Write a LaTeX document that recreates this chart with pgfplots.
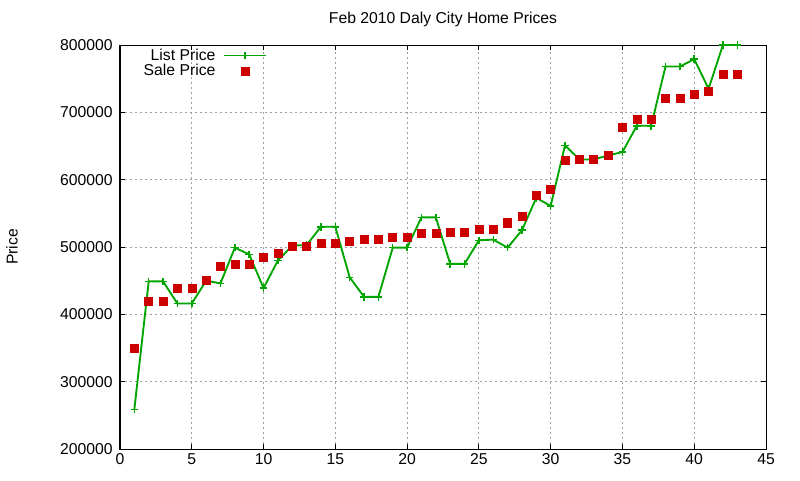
\documentclass[border=0pt]{standalone}
\usepackage{fontspec}
\setmainfont{Liberation Sans}
\usepackage{pgfplots}
\pgfplotsset{compat=1.18}
\usepackage{pgfplotstable}
\definecolor{lgreen}{RGB}{0,165,0}
\definecolor{sred}{RGB}{204,0,0}
\definecolor{gridgray}{RGB}{160,160,160}
\pgfplotsset{
  listleg/.style={legend image code/.code={\draw[lgreen, line width=1.4pt] (0cm,0cm) -- (1.1cm,0cm); \draw[mark repeat=2, mark phase=2, ##1] plot coordinates {(0cm,0cm)(0.55cm,0cm)(1.1cm,0cm)};}},
  saleleg/.style={legend image code/.code={\draw[##1] plot coordinates {(0.55cm,0cm)};}},
}
\pgfplotstableread{
x list sale
1 259000 350000
2 449000 420000
3 449000 420000
4 416000 438000
5 416000 438000
6 450000 450000
7 446000 471000
8 499000 475000
9 489000 475000
10 439000 485000
11 480000 490000
12 502000 501000
13 503000 501000
14 530000 505000
15 530000 505000
16 455000 508000
17 426000 511000
18 426000 511000
19 499000 515000
20 499000 515000
21 544000 520000
22 544000 520000
23 475000 522000
24 475000 522000
25 510000 526000
26 511000 526000
27 499000 536000
28 525000 545000
29 573000 577000
30 561000 586000
31 651000 629000
32 630000 630000
33 630000 630000
34 636000 636000
35 641000 678000
36 680000 690000
37 680000 690000
38 768000 721000
39 768000 721000
40 779000 727000
41 735000 731000
42 800000 756000
43 800000 756000
}\prices
\newcommand{\f}{\fontsize{11.8}{13}\selectfont}
\begin{document}
\begin{tikzpicture}
\useasboundingbox (0,0) rectangle (600pt,360pt);
\begin{axis}[
  at={(90pt,23.25pt)}, anchor=south west,
  scale only axis, width=484.5pt, height=303pt,
  xmin=0, xmax=45, ymin=200000, ymax=800000,
  xtick={0,5,...,45}, ytick={200000,300000,...,800000},
  scaled y ticks=false,
  /pgf/number format/.cd, fixed, 1000 sep={}, assume math mode=true, /pgfplots/.cd,
  tick align=inside, major tick length=4pt,
  xtick pos=both, ytick pos=both,
  grid=major,
  major grid style={gridgray, line width=0.75pt, dash pattern=on 1.5pt off 2.25pt},
  axis line style={line width=0.75pt},
  every tick/.style={black, line width=0.75pt},
  tick label style={font=\f},
  yticklabel style={xshift=-2pt},
  clip=false,
  title={Feb 2010 Daly City Home Prices},
  title style={font=\f, at={(axis description cs:0.5,1)}, anchor=center, yshift=13pt},
  ylabel={Price},
  ylabel style={font=\f, at={(axis description cs:-0.1672,0.5)}, anchor=center},
  legend style={draw=none, fill=none, font=\f, at={(axis description cs:0.228,0.998)}, anchor=north east, row sep=-2.5pt, inner sep=0pt, column sep=4pt},
  legend cell align=right,
  legend plot pos=right,
]
\addplot[lgreen, line width=1.4pt, mark=+, mark size=2.8pt, mark options={line width=1.1pt}, listleg]
  table[x=x, y=list] {\prices};
\addlegendentry{List Price}
\addplot[only marks, mark=square*, mark size=3pt, color=sred, saleleg]
  table[x=x, y=sale] {\prices};
\addlegendentry{Sale Price}
\end{axis}
\end{tikzpicture}
\end{document}
